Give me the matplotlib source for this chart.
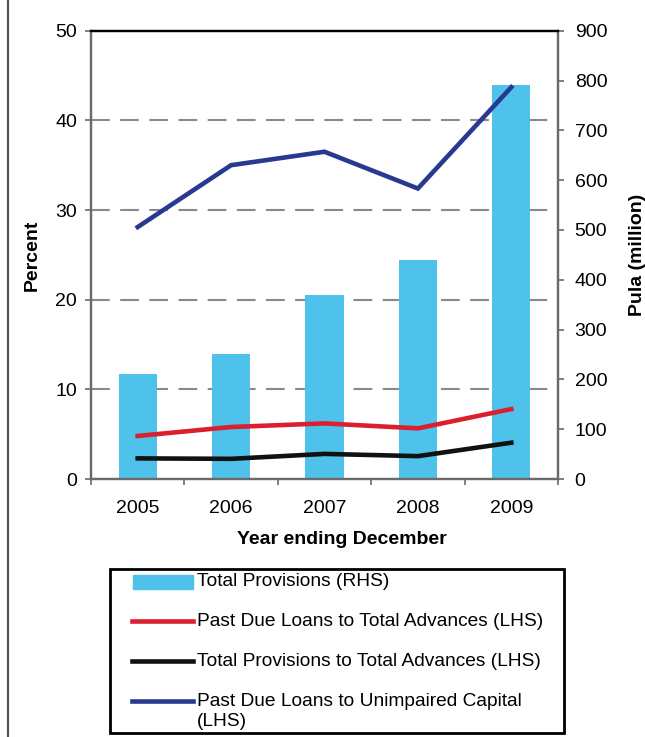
import numpy as np
import matplotlib
matplotlib.use("Agg")
import matplotlib.pyplot as plt
from matplotlib.lines import Line2D
from matplotlib.patches import Rectangle

plt.rcParams['font.family'] = ['Liberation Sans', 'DejaVu Sans']

years = ['2005', '2006', '2007', '2008', '2009']
total_provisions = [210, 250, 370, 440, 790]          # Pula million (RHS)
past_due_to_advances = [4.8, 5.8, 6.2, 5.65, 7.8]     # percent (LHS)
prov_to_advances = [2.3, 2.25, 2.8, 2.55, 4.05]       # percent (LHS)
past_due_to_capital = [28.1, 35.0, 36.5, 32.4, 43.7]  # percent (LHS)

left_ticks = [0, 10, 20, 30, 40, 50]
right_ticks = list(range(0, 1000, 100))
legend_labels = [['Total Provisions (RHS)'],
                 ['Past Due Loans to Total Advances (LHS)'],
                 ['Total Provisions to Total Advances (LHS)'],
                 ['Past Due Loans to Unimpaired Capital', '(LHS)']]

BAR = '#4FC2EB'
RED = '#DC1F2E'
BLACK = '#111111'
NAVY = '#283A90'
SPINE = '#6a6a6a'
GRID = '#8a8a8a'
FS = 14

W, H = 645, 737
fig = plt.figure(figsize=(W / 100, H / 100), dpi=100)

def fx(x):
    return x / W

def fy(y):
    return 1 - y / H

ax = fig.add_axes([fx(91), fy(479), fx(558) - fx(91), fy(30.7) - fy(479)])
ax2 = ax.twinx()
ax.set_zorder(2)
ax.patch.set_visible(False)
ax2.set_zorder(1)

x = np.arange(len(years))
ymax_l, ymax_r = 50, 900

# gridlines follow the left scale, drawn behind the bars
for v in left_ticks[1:-1]:
    ax2.axhline(v * ymax_r / ymax_l, color=GRID, lw=1.5, dashes=(9, 5), zorder=0)

ax2.bar(x, total_provisions, width=0.41, color=BAR, zorder=2)

ax.plot(x, past_due_to_advances, color=RED, lw=3.3, solid_joinstyle='miter')
ax.plot(x, prov_to_advances, color=BLACK, lw=3.3, solid_joinstyle='miter')
ax.plot(x, past_due_to_capital, color=NAVY, lw=3.3, solid_joinstyle='miter')

ax.set_xlim(-0.5, len(years) - 0.5)
ax.set_ylim(0, ymax_l)
ax2.set_ylim(0, ymax_r)
ax.set_yticks(left_ticks)
ax2.set_yticks(right_ticks)

ax.set_xticks(np.arange(-0.5, len(years)))
ax.set_xticklabels([])
ax.set_xticks(x, minor=True)
ax.set_xticklabels(years, minor=True)
ax.tick_params(axis='x', which='major', direction='out', length=4.5, width=1.2, color=SPINE)
ax.tick_params(axis='x', which='minor', length=0, pad=15, labelsize=FS)
ax.tick_params(axis='y', direction='out', length=4, width=1.2, color=SPINE, pad=6, labelsize=FS)
ax2.tick_params(axis='y', direction='out', length=4, width=1.2, color=SPINE, pad=8, labelsize=FS)

for a in (ax, ax2):
    for side in ('left', 'right', 'bottom'):
        a.spines[side].set_color(SPINE)
        a.spines[side].set_linewidth(1.6)
    a.spines['top'].set_color('black')
    a.spines['top'].set_linewidth(1.6)

ax.set_ylabel('Percent', fontsize=FS, fontweight='bold')
ax.yaxis.set_label_coords(-0.107, 0.5)
ax2.set_ylabel('Pula (million)', fontsize=FS, fontweight='bold')
ax2.yaxis.set_label_coords(1.152, 0.5)
ax.set_xlabel('Year ending December', fontsize=FS, fontweight='bold')
ax.xaxis.set_label_coords(0.537, -0.117)

# legend box below the plot
fig.add_artist(Rectangle((fx(110), fy(733)), fx(564) - fx(110), fy(569) - fy(733),
                         fill=False, ec='black', lw=2, transform=fig.transFigure))
rows = [581.5, 621, 661, 701]
fig.add_artist(Rectangle((fx(133), fy(588.5)), fx(193) - fx(133), fy(575) - fy(588.5),
                         color=BAR, transform=fig.transFigure))
for yy, c in zip(rows[1:], [RED, BLACK, NAVY]):
    fig.add_artist(Line2D([fx(132), fx(193)], [fy(yy), fy(yy)], color=c, lw=3.3,
                          transform=fig.transFigure))
for yy, lines in zip(rows, legend_labels):
    for i, lab in enumerate(lines):
        fig.text(fx(197), fy(yy + 21 * i), lab, fontsize=13.8, va='center', ha='left')

# page edge at the left
fig.add_artist(Line2D([fx(7.5), fx(7.5)], [0, 1], color='#555555', lw=1.6,
                      transform=fig.transFigure))

fig.savefig('out.png', dpi=100)
